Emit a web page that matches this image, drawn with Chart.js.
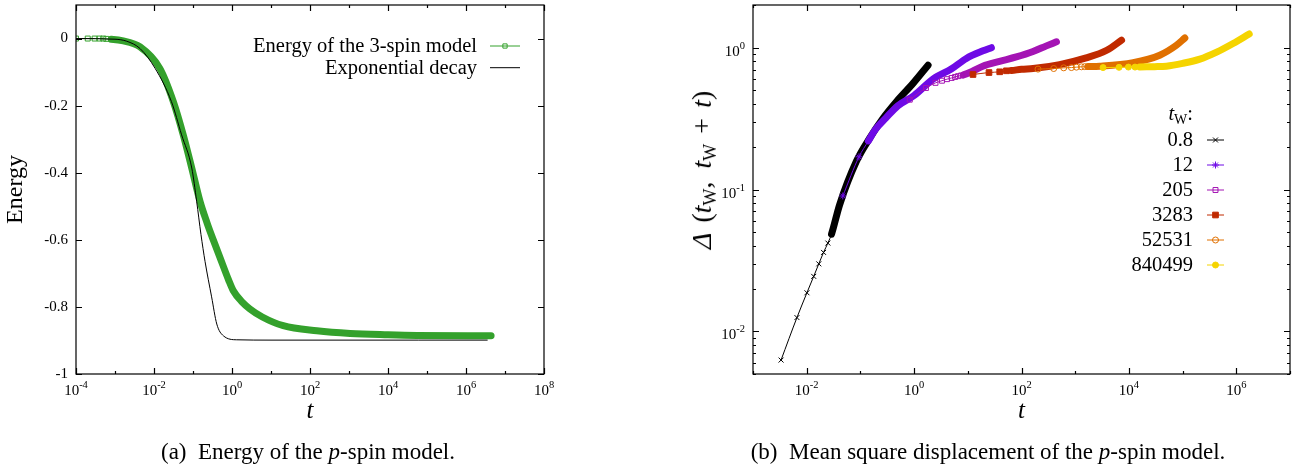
<!DOCTYPE html>
<html>
<head>
<meta charset="utf-8">
<script src="https://cdn.jsdelivr.net/npm/chart.js@4"></script>
<style>
  html, body { margin: 0; padding: 0; background: #fff; }
  body { width: 1297px; height: 471px; position: relative; overflow: hidden; font-family: "Liberation Serif", serif; color: #000; }
  canvas { position: absolute; left: 0; top: 0; }
  .caption { position: absolute; top: 440px; font-size: 23px; line-height: 23px; white-space: nowrap; transform: translateX(-50%); }
  #msdYTitle { position: absolute; left: 702px; top: 170px; font-size: 28px; line-height: 28px; white-space: nowrap; transform: translate(-50%, -50%) rotate(-90deg); }
  #msdYTitle sub { font-size: 18px; vertical-align: -5px; line-height: 0; }
</style>
</head>
<body>
<canvas id="energyChart" width="1297" height="471"></canvas>
<canvas id="msdChart" width="1297" height="471"></canvas>
<div id="msdYTitle"><i>Δ</i><span style="margin-left:10px">(</span><i>t</i><sub>W</sub>,<span style="margin-left:13px"></span><i>t</i><sub>W</sub><span style="margin:0 10px">+</span><i>t</i>)</div>
<div class="caption" style="left:308px">(a)&nbsp; Energy of the <i>p</i>-spin model.</div>
<div class="caption" style="left:988px">(b)&nbsp; Mean square displacement of the <i>p</i>-spin model.</div>
<script>
// ---- panel (a): energy of the 3-spin model
const energyT = [1e-4, 2e-4, 3e-4, 4e-4, 5e-4, 6e-4, 8e-4, 1.5e-3, 4.4e-3, 0.0141, 0.0313, 0.0562, 0.093, 0.151,
  0.23, 0.33, 0.5, 0.82, 1.08, 1.8, 2.88, 6, 20.6, 150, 1070, 10000, 55000, 4.4e6];
const energyE = [0, 0, 0, 0, 0, -0.001, -0.002, -0.006, -0.025, -0.089, -0.188, -0.287, -0.386, -0.485,
  -0.55, -0.6, -0.655, -0.72, -0.752, -0.785, -0.806, -0.83, -0.856, -0.871, -0.879, -0.883, -0.885, -0.886];

const decayT = [1e-4, 1e-3, 2e-3, 4.4e-3, 0.0107, 0.028, 0.051, 0.093, 0.124, 0.16, 0.204, 0.3, 0.407, 0.6, 1.32, 10, 1000, 3.5e6];
const decayE = [0, -0.002, -0.008, -0.03, -0.089, -0.188, -0.287, -0.386, -0.485, -0.584, -0.665, -0.77, -0.851, -0.886, -0.898, -0.899, -0.899, -0.899];

const energyXTicks = [-4, -2, 0, 2, 4, 6, 8];          // labelled decades (exponents)
const energyYTicks = [0, -0.2, -0.4, -0.6, -0.8, -1];
const energyLegend = ['Energy of the 3-spin model', 'Exponential decay'];

// ---- panel (b): mean square displacement, one pair of arrays per t_w
const twLabels = ['0.8', '12', '205', '3283', '52531', '840499'];

const t08 = [0.00333, 0.00658, 0.0101, 0.0135, 0.0168, 0.0206, 0.0248, 0.029, 0.041, 0.0843, 0.149, 0.264, 0.468, 0.955, 1.82];
const d08 = [0.00627, 0.0125, 0.0187, 0.0244, 0.0299, 0.036, 0.0419, 0.0485, 0.078, 0.158, 0.23, 0.318, 0.416, 0.56, 0.753];

const t12 = [0.047, 0.094, 0.141, 0.19, 0.3, 0.5, 1.0, 2.25, 5, 9.4, 19.2, 27.5];
const d12 = [0.09, 0.17, 0.22, 0.265, 0.32, 0.39, 0.46, 0.6, 0.71, 0.84, 0.95, 1.0];

const t205 = [0.83, 1.66, 2.5, 3.3, 4.1, 5.0, 5.8, 6.6, 7.5, 8.3, 12, 19, 39, 80, 164, 291, 447];
const d205 = [0.43, 0.52, 0.565, 0.585, 0.6, 0.612, 0.622, 0.63, 0.637, 0.643, 0.68, 0.74, 0.8, 0.86, 0.94, 1.03, 1.1];

const t3283 = [12.5, 24.8, 39.3, 52.4, 64.9, 100, 164, 512, 1600, 3870, 7300];
const d3283 = [0.647, 0.668, 0.676, 0.687, 0.69, 0.705, 0.713, 0.76, 0.847, 0.959, 1.13];

const t52531 = [203, 398, 611, 851, 1055, 1306, 1507, 1738, 2870, 11970, 37500, 76700, 110000];
const d52531 = [0.706, 0.713, 0.721, 0.724, 0.729, 0.733, 0.735, 0.736, 0.741, 0.785, 0.885, 1.04, 1.17];

const t840499 = [3300, 6550, 9800, 13000, 15900, 30000, 50000, 100000, 210000, 430000, 870000, 1740000];
const d840499 = [0.724, 0.727, 0.73, 0.73, 0.732, 0.735, 0.741, 0.775, 0.83, 0.93, 1.07, 1.25];

const msdXTicks = [-2, 0, 2, 4, 6];
const msdYTicks = [-2, -1, 0];

// styles: where the markers crowd into a solid band the line is drawn thick instead
const msdStyles = [
  { color: '#000000', pointStyle: 'crossRot', filled: false, radius: 3.5, bandFrom: 0.028, band: 7 },
  { color: '#6e0ae6', pointStyle: 'star', filled: false, radius: 3.5, bandFrom: 0.14, band: 7 },
  { color: '#a414b4', pointStyle: 'rect', filled: false, radius: 3.5, bandFrom: 8, band: 7 },
  { color: '#c02a00', pointStyle: 'rect', filled: true, radius: 4, bandFrom: 60, band: 7 },
  { color: '#e07000', pointStyle: 'circle', filled: false, radius: 3, bandFrom: 1700, band: 7 },
  { color: '#f5d400', pointStyle: 'circle', filled: true, radius: 3, bandFrom: 15000, band: 7 }
];
const energyStyle = { color: '#34a12c', pointStyle: 'rect', filled: false, radius: 3.5, bandFrom: 7e-4, band: 7 };
const decayStyle = { color: '#000000', pointStyle: false, filled: false, radius: 0, bandFrom: Infinity, band: 1 };

const SERIF = '"Liberation Serif", "Times New Roman", serif';

function makeSeries(ts, vs, st, label, order) {
  return {
    label: label,
    order: order,
    data: ts.map((t, i) => ({ x: t, y: vs[i] })),
    borderColor: st.color,
    backgroundColor: st.filled ? st.color : 'rgba(0,0,0,0)',
    pointStyle: st.pointStyle,
    pointBorderColor: st.color,
    pointBackgroundColor: st.filled ? st.color : 'rgba(0,0,0,0)',
    pointBorderWidth: 1,
    pointRadius: ctx => (ctx.raw && ctx.raw.x < st.bandFrom ? st.radius : 0),
    borderWidth: 1,
    borderCapStyle: 'round',
    borderJoinStyle: 'round',
    cubicInterpolationMode: 'monotone',
    segment: { borderWidth: ctx => (ctx.p0.parsed.x >= st.bandFrom ? st.band : 1) }
  };
}

// "10" with a raised exponent, anchored at x (center or right edge)
function drawPower(ctx, exp, x, y, align) {
  ctx.textBaseline = 'alphabetic';
  ctx.textAlign = 'left';
  ctx.font = '15px ' + SERIF;
  const wBase = ctx.measureText('10').width;
  ctx.font = '10.5px ' + SERIF;
  const wExp = ctx.measureText(String(exp)).width;
  const w = wBase + wExp;
  const x0 = align === 'right' ? x - w : x - w / 2;
  ctx.font = '15px ' + SERIF;
  ctx.fillText('10', x0, y);
  ctx.font = '10.5px ' + SERIF;
  ctx.fillText(String(exp), x0 + wBase, y - 7);
}

// gnuplot-like frame: box, inward ticks on all four sides, labels
function makeFrame(cfg) {
  return {
    id: 'frame',
    afterDatasetsDraw(chart) {
      const { ctx, chartArea: a, scales } = chart;
      ctx.save();
      ctx.strokeStyle = '#000';
      ctx.lineWidth = 1.2;
      ctx.strokeRect(a.left, a.top, a.right - a.left, a.bottom - a.top);
      ctx.beginPath();
      cfg.xTickMarks.forEach(([v, len]) => {
        const px = Math.round(scales.x.getPixelForValue(v)) + 0.5;
        ctx.moveTo(px, a.bottom); ctx.lineTo(px, a.bottom - len);
        ctx.moveTo(px, a.top); ctx.lineTo(px, a.top + len);
      });
      cfg.yTickMarks.forEach(([v, len]) => {
        const py = Math.round(scales.y.getPixelForValue(v)) + 0.5;
        ctx.moveTo(a.left, py); ctx.lineTo(a.left + len, py);
        ctx.moveTo(a.right, py); ctx.lineTo(a.right - len, py);
      });
      ctx.stroke();

      ctx.fillStyle = '#000';
      cfg.xLabels.forEach(e => drawPower(ctx, e, scales.x.getPixelForValue(Math.pow(10, e)), 395, 'center'));
      if (cfg.yPower) {
        cfg.yLabels.forEach(e => drawPower(ctx, e, a.left - 8, scales.y.getPixelForValue(Math.pow(10, e)) + 8, 'right'));
      } else {
        ctx.font = '15px ' + SERIF;
        ctx.textAlign = 'right';
        ctx.textBaseline = 'middle';
        cfg.yLabels.forEach(v => ctx.fillText(String(v), a.left - 8, scales.y.getPixelForValue(v)));
      }

      // x title
      ctx.font = 'italic 25px ' + SERIF;
      ctx.textAlign = 'center';
      ctx.textBaseline = 'alphabetic';
      ctx.fillText('t', (a.left + a.right) / 2, 418);

      if (cfg.yTitle) {
        ctx.save();
        ctx.translate(22, (a.top + a.bottom) / 2);
        ctx.rotate(-Math.PI / 2);
        ctx.font = '24px ' + SERIF;
        ctx.fillText(cfg.yTitle, 0, 0);
        ctx.restore();
      }
      cfg.legend(ctx, chart);
      ctx.restore();
    }
  };
}

function legendSample(ctx, chart, ds, x1, x2, y) {
  ctx.save();
  ctx.strokeStyle = ds.borderColor;
  ctx.lineWidth = 1;
  ctx.beginPath();
  ctx.moveTo(x1, y); ctx.lineTo(x2, y);
  ctx.stroke();
  if (ds.pointStyle) {
    ctx.fillStyle = ds.pointBackgroundColor;
    ctx.strokeStyle = ds.pointBorderColor;
    Chart.helpers.drawPoint(ctx, { pointStyle: ds.pointStyle, radius: ds.legendRadius, borderWidth: 1, rotation: 0 }, (x1 + x2) / 2, y);
  }
  ctx.restore();
}

const decadeMarks = (lo, hi) => {
  const out = [];
  for (let e = lo; e <= hi; e++) out.push([Math.pow(10, e), e % 2 === 0 ? 6 : 3]);
  return out;
};

// ---------------- panel (a)
const energyDatasets = [
  makeSeries(energyT, energyE, energyStyle, energyLegend[0], 2),
  makeSeries(decayT, decayE, decayStyle, energyLegend[1], 1)
];
energyDatasets[0].legendRadius = 3;
energyDatasets[1].pointRadius = 0;

new Chart(document.getElementById('energyChart'), {
  type: 'line',
  data: { datasets: energyDatasets },
  options: {
    responsive: false,
    animation: false,
    events: [],
    layout: { padding: { left: 76, right: 753, top: 3, bottom: 97 } },
    plugins: { legend: { display: false }, tooltip: { enabled: false } },
    scales: {
      x: { type: 'logarithmic', min: 1e-4, max: 1e8, display: false },
      y: { type: 'linear', min: -1, max: 0.1, display: false }
    }
  },
  plugins: [makeFrame({
    xTickMarks: decadeMarks(-4, 8),
    yTickMarks: energyYTicks.map(v => [v, 6]),
    xLabels: energyXTicks,
    yLabels: energyYTicks,
    yPower: false,
    yTitle: 'Energy',
    legend(ctx, chart) {
      ctx.font = '20.5px ' + SERIF;
      ctx.textAlign = 'right';
      ctx.textBaseline = 'middle';
      const ys = [46, 67.7];
      chart.data.datasets.forEach((ds, i) => {
        ctx.fillStyle = '#000';
        ctx.fillText(ds.label, 477, ys[i] + 0.5);
        legendSample(ctx, chart, ds, 490, 520, ys[i]);
      });
    }
  })]
});

// ---------------- panel (b)
const msdT = [t08, t12, t205, t3283, t52531, t840499];
const msdD = [d08, d12, d205, d3283, d52531, d840499];
const msdDatasets = twLabels.map((lab, i) => {
  const ds = makeSeries(msdT[i], msdD[i], msdStyles[i], lab, twLabels.length - i);
  ds.legendRadius = msdStyles[i].radius;
  return ds;
});

const msdYMarks = [];
for (let e = -3; e <= 0; e++) {
  for (let k = 1; k <= 9; k++) {
    const v = k * Math.pow(10, e);
    if (v >= 0.005 && v <= 2) msdYMarks.push([v, k === 1 ? 6 : 3]);
  }
}

new Chart(document.getElementById('msdChart'), {
  type: 'line',
  data: { datasets: msdDatasets },
  options: {
    responsive: false,
    animation: false,
    events: [],
    layout: { padding: { left: 753, right: 7, top: 3, bottom: 97 } },
    plugins: { legend: { display: false }, tooltip: { enabled: false } },
    scales: {
      x: { type: 'logarithmic', min: 1e-3, max: 1e7, display: false },
      y: { type: 'logarithmic', min: 0.005, max: 2, display: false }
    }
  },
  plugins: [makeFrame({
    xTickMarks: decadeMarks(-3, 7),
    yTickMarks: msdYMarks,
    xLabels: msdXTicks,
    yLabels: msdYTicks,
    yPower: true,
    yTitle: null,
    legend(ctx, chart) {
      const xr = 1193;
      ctx.fillStyle = '#000';
      ctx.textBaseline = 'middle';
      ctx.textAlign = 'left';
      // header  t_W:
      ctx.font = '20.5px ' + SERIF;
      const wColon = ctx.measureText(':').width;
      ctx.font = '14px ' + SERIF;
      const wSub = ctx.measureText('W').width;
      ctx.font = 'italic 20.5px ' + SERIF;
      const wT = ctx.measureText('t').width;
      let x = xr - wColon - wSub - wT;
      ctx.fillText('t', x, 115);
      ctx.font = '14px ' + SERIF;
      ctx.fillText('W', x + wT, 120);
      ctx.font = '20.5px ' + SERIF;
      ctx.fillText(':', x + wT + wSub, 115);

      ctx.textAlign = 'right';
      chart.data.datasets.forEach((ds, i) => {
        const y = 140 + i * 25;
        ctx.fillStyle = '#000';
        ctx.font = '20.5px ' + SERIF;
        ctx.fillText(ds.label, xr, y + 0.5);
        legendSample(ctx, chart, ds, 1207, 1224, y);
      });
    }
  })]
});
</script>
</body>
</html>
